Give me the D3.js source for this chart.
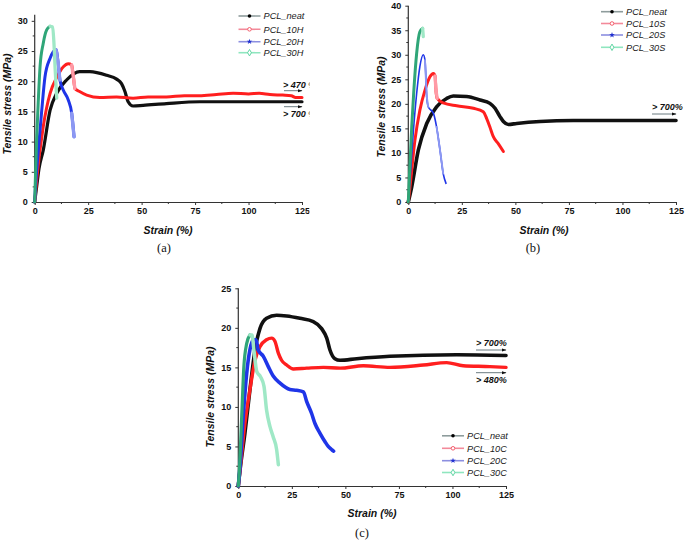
<!DOCTYPE html>
<html><head><meta charset="utf-8">
<script src="https://cdn.jsdelivr.net/npm/d3@7"></script>
<style>body{margin:0;background:#fff}svg{display:block}</style>
</head><body>
<script>
// ---------------- DATA ----------------
const xTicks = [0, 25, 50, 75, 100, 125];
const yTicksA = [0, 5, 10, 15, 20, 25, 30];
const yTicksB = [0, 5, 10, 15, 20, 25, 30, 35, 40];
const yTicksC = [0, 5, 10, 15, 20, 25];

const namesA = ["PCL_neat", "PCL_10H", "PCL_20H", "PCL_30H"];
const namesB = ["PCL_neat", "PCL_10S", "PCL_20S", "PCL_30S"];
const namesC = ["PCL_neat", "PCL_10C", "PCL_20C", "PCL_30C"];

// panel (a)
const a_neat = [[0,0],[0.9,2.5],[2,5.5],[4,8.6],[7.2,15.2],[10.3,18],[14.9,20.2],[21,21.6],[25.8,21.6],[33.6,21],[38.3,20.35],[40.6,19.6],[42.2,18.3],[43.7,16.6],[46,15.9],[50.7,16],[61.6,16.3],[77.2,16.6],[100,16.6],[125,16.6]];
const a_10H = [[0,0],[0.9,3.6],[4,12.5],[7.2,18],[10.3,20.6],[13.4,22.4],[15.7,22.9],[17.3,22.7],[18.1,20.7],[18.8,18.8],[21,18.3],[24.3,17.7],[30.5,17.3],[38.3,17.4],[46,17.2],[53,17.4],[61.6,17.4],[70,17.6],[77,17.6],[85,17.8],[92.8,18],[100,17.9],[105,18],[110,17.8],[116,17.7],[120,17.6],[122,17.3],[125,17.3]];
const a_20H = [[0,0],[0.2,1.4],[1.7,8.6],[3.3,15.2],[4.8,20.7],[7.2,23.8],[8.7,24.9],[10,25.2],[11,22.9],[11.8,20.2],[13.4,18.5],[15.7,16.9],[17.3,14.7],[18.4,10.8]];
const a_30H = [[0,0],[0.2,2.5],[0.9,10.3],[1.7,16.9],[2.5,22.4],[4,26.3],[5.6,28.5],[7.2,29.1],[8.4,29],[9,26.3],[9.5,22.4],[10.3,17.2]];

// panel (b)
const b_neat = [[0,0],[1.6,3.1],[4.7,10.6],[8.6,16],[13.2,19.4],[17.9,21.1],[21,21.6],[27.2,21.5],[33.5,20.8],[38.1,20.1],[40.5,19.1],[42.8,17.4],[44.4,16.4],[46.7,15.8],[50.6,16],[61.5,16.4],[77,16.6],[100,16.6],[125,16.6]];
const b_10S = [[0,0],[0.8,3.1],[3.1,12.6],[5.4,18.7],[7.8,22.8],[10.1,25.5],[11.7,26.2],[12.5,25.7],[12.9,22.8],[13.5,21.1],[16.3,20.2],[22.6,19.6],[30.4,19.1],[35,18.4],[36.6,17],[38.1,15.3],[39.7,13.3],[42,11.9],[44.4,10.3]];
const b_20S = [[0,0],[0.8,4.5],[2.3,14],[3.9,22.1],[5.4,27.6],[7,30],[7.8,28.9],[8.6,21.5],[9.3,19.4],[11.7,18.1],[13.2,15.3],[14.8,10.6],[16.3,5.8],[17.6,3.8]];
const b_30S = [[0,0],[0.3,3.1],[1.6,15.3],[2.6,22.8],[3.9,30.3],[5.4,34.7],[6.7,35.4],[7,33.7]];

// panel (c)
const c_neat = [[0,0],[0.8,2],[3.1,6.7],[5.4,12.1],[7.8,17.2],[10.1,19.9],[13.2,21.2],[17.9,21.6],[22.6,21.5],[28.8,21.2],[35,20.8],[38.9,19.9],[41.3,18.7],[42.8,17.2],[45.1,16.1],[47.5,15.9],[55.3,16.1],[70.8,16.4],[102,16.6],[125,16.5]];
const c_10C = [[0,0],[0.8,2],[3.1,7.9],[5.4,12.1],[7.8,15.9],[10.1,17.6],[13.2,18.5],[15.6,18.7],[17.1,18.3],[18.7,16.8],[20.2,15.9],[22.6,15.3],[25.7,14.8],[31.9,14.9],[39.7,15],[47.5,14.9],[58.4,15.2],[70.8,15],[86.4,15.3],[97.3,15.6],[105,15.2],[117.5,15.1],[125,15]];
const c_20C = [[0,0],[0.8,2.4],[2.3,8.8],[3.9,14.2],[5.4,17.2],[7,18.5],[8.3,18.5],[9.3,17.2],[11.7,16.4],[14,15.1],[16.3,13.9],[19.5,13],[24.1,12.2],[27.2,12.1],[30.4,11.9],[31.9,10.7],[34.2,9.2],[35.8,7.9],[38.1,6.7],[40.5,5.6],[42,5],[43.6,4.6],[44.5,4.4]];
const c_30C = [[0,0],[0.5,2],[1.6,8.8],[2.6,15.1],[3.9,18],[5.4,19.1],[6.4,19.1],[7.3,17.2],[8.6,14.5],[10.4,13.8],[12,12.6],[13.2,9.6],[14.8,7.5],[16.3,6.2],[17.9,4.6],[18.7,2.7]];

const notesA = ["> 470 %", "> 700 %"];
const notesB = ["> 700%"];
const notesC = ["> 700%", "> 480%"];

// ---------------- DRAWING ----------------
const W = 685, H = 541;
const svg = d3.select("body").append("svg").attr("width", W).attr("height", H)
  .style("font-family", "'Liberation Sans', Arial, sans-serif");

const defs = svg.append("defs");
defs.append("marker").attr("id", "arr").attr("viewBox", "0 0 10 10")
  .attr("refX", 9).attr("refY", 5).attr("markerWidth", 5).attr("markerHeight", 5)
  .attr("orient", "auto").append("path").attr("d", "M0,1.5L10,5L0,8.5Z").attr("fill", "#111");
defs.append("clipPath").attr("id", "clipA").append("rect")
  .attr("x", 0).attr("y", 0).attr("width", 309.5).attr("height", 260);

const colLine = ["#111111", "#ff1f1f", "#1f35e8", "#2fa678"];
const colLight = ["#555555", "#ff9aa6", "#8c98f2", "#9fe8c6"];
const colLegendLine = ["#8e9c9c", "#f38a9a", "#8c8fe0", "#8fe6bf"];
const colMark = ["#000000", "#f25060", "#2030d0", "#50d09a"];

function drawPanel(p) {
  const g = svg.append("g");
  if (p.clip) g.attr("clip-path", "url(#" + p.clip + ")");
  const x = d3.scaleLinear().domain([0, 125]).range([p.x0, p.x1]);
  const y = d3.scaleLinear().domain([0, p.ymax]).range([p.y0, p.ytop]);

  // minor ticks
  const xMinor = d3.range(12.5, 125, 25);
  const yMinor = d3.range(2.5, p.ymax, 5);
  g.selectAll(".xm").data(xMinor).join("line")
    .attr("x1", d => x(d)).attr("x2", d => x(d)).attr("y1", p.y0).attr("y2", p.y0 + 2)
    .attr("stroke", "#333").attr("stroke-width", 1);
  g.selectAll(".ym").data(yMinor).join("line")
    .attr("y1", d => y(d)).attr("y2", d => y(d)).attr("x1", p.x0).attr("x2", p.x0 - 2)
    .attr("stroke", "#333").attr("stroke-width", 1);

  const xAxis = g.append("g").attr("transform", `translate(0,${p.y0})`)
    .call(d3.axisBottom(x).tickValues(xTicks).tickSize(3).tickSizeOuter(0).tickPadding(3));
  const yAxis = g.append("g").attr("transform", `translate(${p.x0},0)`)
    .call(d3.axisLeft(y).tickValues(p.yTicks).tickSize(3).tickSizeOuter(0).tickPadding(4));
  [xAxis, yAxis].forEach(ax => {
    ax.select(".domain").attr("stroke", "#333").attr("stroke-width", 1.2);
    ax.selectAll(".tick line").attr("stroke", "#333").attr("stroke-width", 1);
    ax.selectAll("text").attr("font-size", 9).attr("font-weight", "bold")
      .attr("fill", "#111").attr("font-family", "'Liberation Sans', Arial, sans-serif");
  });
  yAxis.select(".domain").attr("d", `M0,${p.y0}V${p.ytop}`);

  const line = d3.line().x(d => x(d[0])).y(d => y(d[1])).curve(d3.curveMonotoneX);
  p.series.forEach((s, i) => {
    if (i === 3) {
      // sparse-marker tail after the peak looks light
      const pk = d3.maxIndex(s, d => d[1]);
      g.append("path").datum(s.slice(0, pk + 1)).attr("d", line).attr("fill", "none")
        .attr("stroke", colLine[i]).attr("stroke-width", p.widths[i])
        .attr("stroke-linejoin", "round").attr("stroke-linecap", "round");
      g.append("path").datum(s.slice(pk)).attr("d", line).attr("fill", "none")
        .attr("stroke", colLight[i]).attr("stroke-width", p.widths[i] + 0.3)
        .attr("stroke-linejoin", "round").attr("stroke-linecap", "round");
      return;
    }
    g.append("path").datum(s).attr("d", line).attr("fill", "none")
      .attr("stroke", colLine[i]).attr("stroke-width", p.widths[i])
      .attr("stroke-linejoin", "round").attr("stroke-linecap", "round");
    if (i === 0) return;
    for (let k = 1; k < s.length; k++) {
      const px = x(s[k][0]) - x(s[k-1][0]);
      const py = y(s[k][1]) - y(s[k-1][1]);
      if (py > 0 && py / Math.max(px, 0.1) > 6) {
        g.append("line").attr("x1", x(s[k-1][0])).attr("y1", y(s[k-1][1]))
          .attr("x2", x(s[k][0])).attr("y2", y(s[k][1]))
          .attr("stroke", colLight[i]).attr("stroke-width", p.widths[i] + 0.3)
          .attr("stroke-linecap", "round");
      }
    }
  });

  // legend
  const lg = g.append("g");
  p.names.forEach((n, i) => {
    const ly = p.legY[i];
    lg.append("line").attr("x1", p.legX).attr("x2", p.legX + 22).attr("y1", ly).attr("y2", ly)
      .attr("stroke", colLegendLine[i]).attr("stroke-width", 1.6);
    const cx = p.legX + 11;
    if (i === 0) lg.append("circle").attr("cx", cx).attr("cy", ly).attr("r", 1.8).attr("fill", colMark[0]);
    if (i === 1) lg.append("circle").attr("cx", cx).attr("cy", ly).attr("r", 1.8).attr("fill", "#fff").attr("stroke", colMark[1]).attr("stroke-width", 0.9);
    if (i === 2) lg.append("path").attr("d", d3.symbol(d3.symbolStar, 10)()).attr("transform", `translate(${cx},${ly})`).attr("fill", colMark[2]);
    if (i === 3) lg.append("path").attr("d", d3.symbol(d3.symbolDiamond, 12)()).attr("transform", `translate(${cx},${ly})`).attr("fill", "#fff").attr("stroke", colMark[3]).attr("stroke-width", 0.9);
    lg.append("text").attr("x", p.legX + 25).attr("y", ly).attr("dy", "0.35em")
      .attr("font-size", 9.2).attr("font-style", "italic").attr("fill", "#222").text(n);
  });

  // annotations
  p.notes.forEach((t, i) => {
    const a = p.noteLayout[i];
    g.append("text").attr("x", a.tx).attr("y", a.ty).attr("dy", "0.35em")
      .attr("font-size", 9).attr("font-weight", "bold").attr("font-style", "italic")
      .attr("fill", "#111").text(t);
    g.append("line").attr("x1", a.ax0).attr("x2", a.ax1).attr("y1", a.ay).attr("y2", a.ay)
      .attr("stroke", "#6a7a80").attr("stroke-width", 1).attr("marker-end", "url(#arr)");
  });

  // axis titles
  g.append("text").attr("x", p.xtX).attr("y", p.xtY).attr("dy", "0.35em").attr("text-anchor", "middle")
    .attr("font-size", 10.5).attr("font-weight", "bold").attr("font-style", "italic").attr("fill", "#111")
    .text("Strain (%)");
  g.append("text").attr("transform", `translate(${p.ytX},${p.ytY}) rotate(-90)`).attr("dy", "0.35em")
    .attr("text-anchor", "middle").attr("font-size", 10.5).attr("font-weight", "bold")
    .attr("font-style", "italic").attr("fill", "#111").text("Tensile stress (MPa)");
  g.append("text").attr("x", p.capX).attr("y", p.capY).attr("dy", "0.35em").attr("text-anchor", "middle")
    .attr("font-size", 12.5).attr("font-family", "'Liberation Serif', 'Times New Roman', serif")
    .attr("fill", "#111").text(p.caption);
}

drawPanel({
  clip: "clipA", x0: 34.7, x1: 302, y0: 202, ytop: 14.8, ymax: 31, yTicks: yTicksA,
  series: [a_neat, a_10H, a_20H, a_30H], names: namesA, widths: [3.2, 3, 3, 3],
  legX: 238.5, legY: [16, 29.3, 41.7, 52.7],
  notes: notesA,
  noteLayout: [{tx: 283, ty: 85, ax0: 284, ax1: 302, ay: 90.7}, {tx: 283, ty: 113.5, ax0: 284, ax1: 302, ay: 106.7}],
  xtX: 168, xtY: 230, ytX: 7.5, ytY: 104, capX: 164, capY: 248, caption: "(a)"
});
drawPanel({
  x0: 408.3, x1: 676, y0: 202, ytop: 5.7, ymax: 40, yTicks: yTicksB,
  series: [b_neat, b_10S, b_20S, b_30S], names: namesB, widths: [3.6, 3, 1.6, 3],
  legX: 601, legY: [11.7, 23.5, 35, 47.3],
  notes: notesB,
  noteLayout: [{tx: 652, ty: 106.7, ax0: 652, ax1: 676, ay: 114}],
  xtX: 544, xtY: 230, ytX: 381, ytY: 107, capX: 533, capY: 248, caption: "(b)"
});
drawPanel({
  x0: 238.3, x1: 506, y0: 486, ytop: 288.3, ymax: 25, yTicks: yTicksC,
  series: [c_neat, c_10C, c_20C, c_30C], names: namesC, widths: [3.6, 3.4, 3.6, 3.2],
  legX: 442, legY: [435.8, 448.3, 460.7, 472.5],
  notes: notesC,
  noteLayout: [{tx: 476, ty: 343.3, ax0: 476, ax1: 506, ay: 350}, {tx: 476, ty: 380, ax0: 476, ax1: 506, ay: 372.7}],
  xtX: 372, xtY: 513, ytX: 210, ytY: 397, capX: 362, capY: 533, caption: "(c)"
});
</script>
</body></html>
